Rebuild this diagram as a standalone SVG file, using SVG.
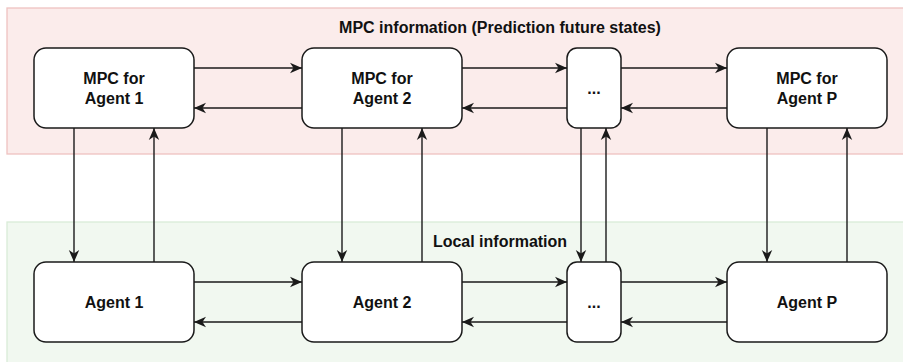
<svg xmlns="http://www.w3.org/2000/svg" width="903" height="362" viewBox="0 0 903 362">
  <style>
    .band-mpc { fill: #fbeceb; stroke: #efc2c0; stroke-width: 1.3; }
    .band-local { fill: #f1f8f0; stroke: #d9ebd7; stroke-width: 1.3; }
    .node { fill: #ffffff; stroke: #1a1a1a; stroke-width: 1.5; }
    .label { font-family: "Liberation Sans", Arial, sans-serif; font-weight: bold; font-size: 16px; fill: #111111; text-anchor: middle; }
    .edge { fill: none; stroke: #1a1a1a; stroke-width: 1.4; marker-end: url(#arrow); }
  </style>
  <defs>
    <marker id="arrow" markerUnits="userSpaceOnUse" markerWidth="14" markerHeight="12" refX="12" refY="6" orient="auto">
      <path d="M0,0.8 L12,6 L0,11.2 L3.5,6 Z" fill="#1a1a1a"/>
    </marker>
  </defs>

  <!-- background bands -->
  <g id="band-mpc">
    <rect class="band-mpc" x="7" y="8" width="905" height="146"/>
    <text class="label" x="500" y="33">MPC information (Prediction future states)</text>
  </g>
  <g id="band-local">
    <rect class="band-local" x="7" y="222" width="905" height="150"/>
    <text class="label" x="500" y="247">Local information</text>
  </g>

  <!-- connectors -->
  <g id="connectors">
    <!-- MPC row, horizontal -->
    <line class="edge" x1="194" y1="68" x2="302" y2="68"/>
    <line class="edge" x1="302" y1="108" x2="194" y2="108"/>
    <line class="edge" x1="462" y1="68" x2="567" y2="68"/>
    <line class="edge" x1="567" y1="108" x2="462" y2="108"/>
    <line class="edge" x1="621" y1="68" x2="727" y2="68"/>
    <line class="edge" x1="727" y1="108" x2="621" y2="108"/>
    <!-- agent row, horizontal -->
    <line class="edge" x1="194" y1="282" x2="302" y2="282"/>
    <line class="edge" x1="302" y1="322" x2="194" y2="322"/>
    <line class="edge" x1="462" y1="282" x2="567" y2="282"/>
    <line class="edge" x1="567" y1="322" x2="462" y2="322"/>
    <line class="edge" x1="621" y1="282" x2="727" y2="282"/>
    <line class="edge" x1="727" y1="322" x2="621" y2="322"/>
    <!-- vertical links between rows -->
    <line class="edge" x1="74" y1="128" x2="74" y2="262"/>
    <line class="edge" x1="154" y1="262" x2="154" y2="128"/>
    <line class="edge" x1="342" y1="128" x2="342" y2="262"/>
    <line class="edge" x1="422" y1="262" x2="422" y2="128"/>
    <line class="edge" x1="581" y1="128" x2="581" y2="262"/>
    <line class="edge" x1="606" y1="262" x2="606" y2="128"/>
    <line class="edge" x1="767" y1="128" x2="767" y2="262"/>
    <line class="edge" x1="847" y1="262" x2="847" y2="128"/>
  </g>

  <!-- MPC nodes -->
  <g id="mpc-agent-1">
    <rect class="node" x="34" y="48" width="160" height="80" rx="12"/>
    <text class="label" x="114" y="84">MPC for</text>
    <text class="label" x="114" y="104">Agent 1</text>
  </g>
  <g id="mpc-agent-2">
    <rect class="node" x="302" y="48" width="160" height="80" rx="12"/>
    <text class="label" x="382" y="84">MPC for</text>
    <text class="label" x="382" y="104">Agent 2</text>
  </g>
  <g id="mpc-ellipsis">
    <rect class="node" x="567" y="48" width="54" height="80" rx="10"/>
    <text class="label" x="594" y="94">...</text>
  </g>
  <g id="mpc-agent-p">
    <rect class="node" x="727" y="48" width="160" height="80" rx="12"/>
    <text class="label" x="807" y="84">MPC for</text>
    <text class="label" x="807" y="104">Agent P</text>
  </g>

  <!-- agent nodes -->
  <g id="agent-1">
    <rect class="node" x="34" y="262" width="160" height="80" rx="12"/>
    <text class="label" x="114" y="308">Agent 1</text>
  </g>
  <g id="agent-2">
    <rect class="node" x="302" y="262" width="160" height="80" rx="12"/>
    <text class="label" x="382" y="308">Agent 2</text>
  </g>
  <g id="agent-ellipsis">
    <rect class="node" x="567" y="262" width="54" height="80" rx="10"/>
    <text class="label" x="594" y="308">...</text>
  </g>
  <g id="agent-p">
    <rect class="node" x="727" y="262" width="160" height="80" rx="12"/>
    <text class="label" x="807" y="308">Agent P</text>
  </g>
</svg>
